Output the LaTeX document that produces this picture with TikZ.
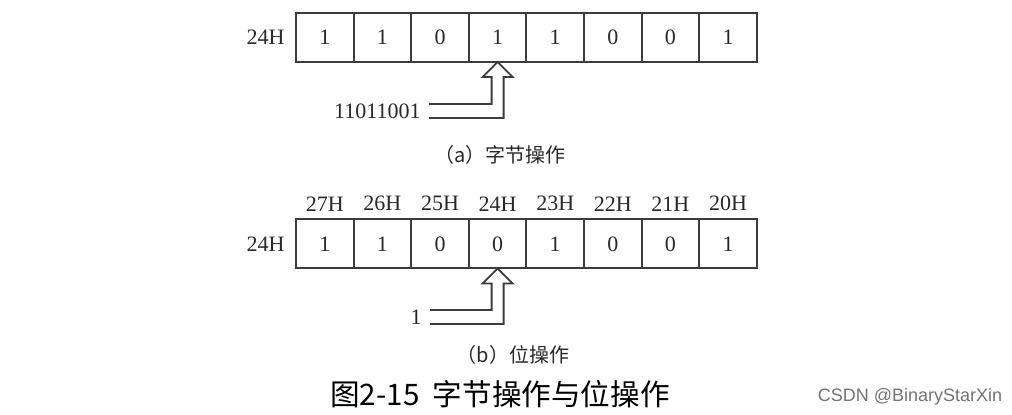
\documentclass[tikz,border=0pt]{standalone}
\usepackage{fontspec}
\setmainfont{Liberation Serif}
\newfontfamily\cjk{Noto Sans CJK SC}
\newfontfamily\wmfont{Liberation Sans}
\usepackage{xcolor}
\definecolor{regline}{RGB}{60,60,60}
\definecolor{regtext}{RGB}{40,40,40}
\usetikzlibrary{positioning,calc}
\tikzset{
  cell/.style={draw=regline, line width=1pt, outer sep=0pt, inner sep=0pt, minimum width=28.8pt, minimum height=24.5pt, font=\fontsize{11}{13}\selectfont, text=regtext},
  addr/.style={inner sep=0pt, font=\fontsize{11}{13}\selectfont, text=regtext},
  captext/.style={inner sep=0pt, font=\cjk\fontsize{10}{12}\selectfont, text=regtext},
  arrline/.style={draw=regline, line width=0.9pt, line join=miter}
}
% hollow bent arrow: #1 = target cell, #2 = label
\newcommand{\bentarrow}[2]{%
  \draw[arrline] ($(#2.east)+(8,-7)$) -| ($(#1.south)+(-6,15)$) -- ++(-9,0) -- (#1.south)
    -- ++(15,15) -- ++(-9,0) |- ($(#2.east)+(8,7)$);}

\begin{document}
\begin{tikzpicture}[x=0.5pt,y=-0.5pt]
  \useasboundingbox (0,0) rectangle (1012,415);
  % (a) byte operation
  \node[cell] (a1) at (324.8,37.5) {1};
  \node[cell, right=0pt of a1] (a2) {1};
  \node[cell, right=0pt of a2] (a3) {0};
  \node[cell, right=0pt of a3] (a4) {1};
  \node[cell, right=0pt of a4] (a5) {1};
  \node[cell, right=0pt of a5] (a6) {0};
  \node[cell, right=0pt of a6] (a7) {0};
  \node[cell, right=0pt of a7] (a8) {1};
  \node[addr, left=5.5pt of a1] (ra) {24H};
  \node[addr, anchor=east] (lba) at (421,111) {11011001};
  \bentarrow{a4}{lba}
  \node[captext] (capa) at (500,155) {（a）字节操作};
  % (b) bit operation
  \node[cell] (b1) at (324.8,244) {1};
  \node[cell, right=0pt of b1] (b2) {1};
  \node[cell, right=0pt of b2] (b3) {0};
  \node[cell, right=0pt of b3] (b4) {0};
  \node[cell, right=0pt of b4] (b5) {1};
  \node[cell, right=0pt of b5] (b6) {0};
  \node[cell, right=0pt of b6] (b7) {0};
  \node[cell, right=0pt of b7] (b8) {1};
  \node[addr, left=5.5pt of b1] (rb) {24H};
  \node[addr, above=4pt of b1] (h7) {27H};
  \node[addr, above=4pt of b2] (h6) {26H};
  \node[addr, above=4pt of b3] (h5) {25H};
  \node[addr, above=4pt of b4] (h4) {24H};
  \node[addr, above=4pt of b5] (h3) {23H};
  \node[addr, above=4pt of b6] (h2) {22H};
  \node[addr, above=4pt of b7] (h1) {21H};
  \node[addr, above=4pt of b8] (h0) {20H};
  \node[addr, anchor=east] (lbb) at (422,317) {1};
  \bentarrow{b4}{lbb}
  \node[captext] (capb) at (513,355) {（b）位操作};
  % figure title and watermark
  \node[captext, font=\cjk\fontsize{14.8}{17}\selectfont, text=black] (title) at (500,394) {图2-15\ \ 字节操作与位操作};
  \node[inner sep=0pt, font=\wmfont\fontsize{9}{11}\selectfont, text=black!55] (wm) at (910,397) {CSDN @BinaryStarXin};
\end{tikzpicture}
\end{document}
